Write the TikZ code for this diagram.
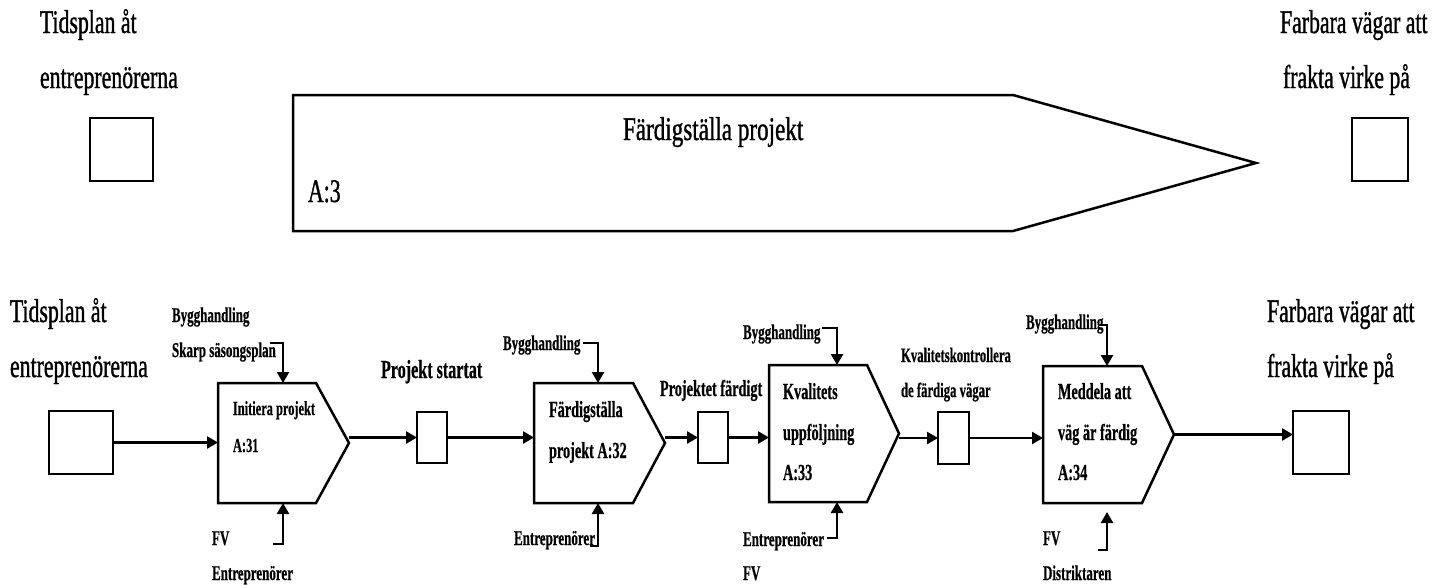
\documentclass[tikz,border=0pt]{standalone}
\usepackage{fontspec}
\setmainfont{Liberation Serif}[FakeStretch=0.66,FakeBold=1]
\newfontfamily\boldcond{Liberation Serif Bold}[FakeStretch=0.62,FakeBold=0.5]
\newfontfamily\widecond{Liberation Serif}[FakeStretch=0.70,FakeBold=1]
\usetikzlibrary{arrows.meta,calc}

\begin{document}
\begin{tikzpicture}[x=1pt,y=-1pt,
  every node/.style={inner sep=0pt, outer sep=0pt},
  big/.style={anchor=base west, font=\fontsize{33}{33}\selectfont},
  lab/.style={anchor=base west, font=\boldcond\fontsize{21}{21}\selectfont},
  ptext/.style={anchor=base west, font=\boldcond\fontsize{#1}{#1}\selectfont},
  stock/.style={draw, line width=2.5pt, rectangle, anchor=north west},
  body/.style={rectangle, anchor=north west},
  outline/.style={draw, line width=2.5pt, line join=miter},
  flow/.style={line width=2.5pt, -{Triangle[length=11pt,width=12pt]}}]

\useasboundingbox (0,0) rectangle (1448,584);

% ---------- overview: A:3 ----------
\node[stock, minimum width=63pt, minimum height=63pt] (tin) at (90,118) {};
\node[stock, minimum width=56pt, minimum height=63pt] (tout) at (1352,118) {};
\node[body, minimum width=720pt, minimum height=136pt] (a3) at (293,95) {};
\draw[outline] (a3.north west) -- (a3.north east) -- ($(a3.east)+(243,0)$)
  -- (a3.south east) -- (a3.south west) -- cycle;

\node[big] (tin1) at (40,33) {Tidsplan åt};
\node[big] (tin2) at (40,88) {entreprenörerna};
\node[big] (tout1) at (1280,33) {Farbara vägar att};
\node[big] (tout2) at (1283,88) {frakta virke på};
\node[anchor=base west, font=\widecond\fontsize{33}{33}\selectfont] (a3t) at (623,140) {Färdigställa projekt};
\node[big] (a3n) at (308,202) {A:3};

% ---------- decomposition: A:31 - A:34 ----------
\node[stock, minimum width=64pt, minimum height=63pt] (b0) at (49,411) {};
\node[stock, minimum width=30pt, minimum height=51pt] (s1) at (417,412) {};
\node[stock, minimum width=30pt, minimum height=51pt] (s2) at (698,412) {};
\node[stock, minimum width=31pt, minimum height=52pt] (s3) at (938,412) {};
\node[stock, minimum width=56pt, minimum height=63pt] (b1) at (1293,411) {};

\node[body, minimum width=98pt, minimum height=120pt] (p1) at (218,383) {};
\node[body, minimum width=99pt, minimum height=120pt] (p2) at (534,383) {};
\node[body, minimum width=98pt, minimum height=137pt] (p3) at (769,365) {};
\node[body, minimum width=99pt, minimum height=137pt] (p4) at (1043,366) {};

\foreach \p/\tip in {p1/33, p2/32, p3/32, p4/32}{
  \draw[outline] (\p.north west) -- (\p.north east) -- ($(\p.east)+(\tip,0)$)
    -- (\p.south east) -- (\p.south west) -- cycle;
  \coordinate (\p tip) at ($(\p.east)+(\tip,0)$);
}

% main flow
\draw[flow] (b0.east) -- (b0.east -| p1.west);
\draw[flow] (s1.west -| p1tip) -- (s1.west);
\draw[flow] (s1.east) -- (s1.east -| p2.west);
\draw[flow] (s2.west -| p2tip) -- (s2.west);
\draw[flow] (s2.east) -- (s2.east -| p3.west);
\draw[flow] (s3.west -| p3tip) -- (s3.west);
\draw[flow] (s3.east) -- (s3.east -| p4.west);
\draw[flow] (p4tip) -- (p4tip -| b1.west);

% outer labels
\node[big] (bin1) at (10,322) {Tidsplan åt};
\node[big] (bin2) at (10,377) {entreprenörerna};
\node[big] (bout1) at (1267,322) {Farbara vägar att};
\node[big] (bout2) at (1267,377) {frakta virke på};

% stock labels
\node[ptext=26] (s1t) at (381,378) {Projekt startat};
\node[ptext=23] (s2t) at (660,396) {Projektet färdigt};
\node[ptext=20.5] (s3t1) at (901,362) {Kvalitetskontrollera};
\node[ptext=20.5] (s3t2) at (901,397) {de färdiga vägar};

% activity texts
\node[ptext=20] (p1t1) at (233,415) {Initiera projekt};
\node[ptext=20] (p1t2) at (233,452) {A:31};
\node[ptext=23] (p2t1) at (549,417) {Färdigställa};
\node[ptext=23] (p2t2) at (549,458) {projekt A:32};
\node[ptext=23] (p3t1) at (783,399) {Kvalitets};
\node[ptext=23] (p3t2) at (783,440) {uppföljning};
\node[ptext=23] (p3t3) at (783,480) {A:33};
\node[ptext=23] (p4t1) at (1058,399) {Meddela att};
\node[ptext=23] (p4t2) at (1058,440) {väg är färdig};
\node[ptext=23] (p4t3) at (1058,480) {A:34};

% controls and mechanisms
\node[lab] (c1a) at (172,322) {Bygghandling};
\node[lab] (c1b) at (172,357) {Skarp säsongsplan};
\node[lab] (m1a) at (212,545) {FV};
\node[lab] (m1b) at (212,580) {Entreprenörer};
\node[lab] (c2) at (503,350) {Bygghandling};
\node[lab] (m2) at (514,545) {Entreprenörer};
\node[lab] (c3) at (743,339) {Bygghandling};
\node[lab] (m3a) at (743,546) {Entreprenörer};
\node[lab] (m3b) at (743,580) {FV};
\node[lab] (c4) at (1026,329) {Bygghandling};
\node[lab] (m4a) at (1043,545) {FV};
\node[lab] (m4b) at (1043,580) {Distriktaren};

\coordinate (c1s) at (270,343);
\coordinate (c2s) at (583,343);
\coordinate (c3s) at (822,328);
\coordinate (c4s) at (1100,325);
\coordinate (m1s) at (273,544);
\coordinate (m2s) at (590,546);
\coordinate (m3s) at (827,538);
\coordinate (m4s) at (1098,550);

\draw[flow] (c1s) -| ($(p1.north west)+(65,0)$);
\draw[flow] (c2s) -| ($(p2.north west)+(64,0)$);
\draw[flow] (c3s) -| ($(p3.north west)+(68,0)$);
\draw[flow] (c4s) -| ($(p4.north west)+(64,0)$);
\draw[flow] (m1s) -| ($(p1.south west)+(65,0)$);
\draw[flow] (m2s) -| ($(p2.south west)+(64,0)$);
\draw[flow] (m3s) -| ($(p3.south west)+(68,0)$);
\draw[flow] (m4s) -| ($(p4.south west)+(64,9)$);
\end{tikzpicture}
\end{document}
